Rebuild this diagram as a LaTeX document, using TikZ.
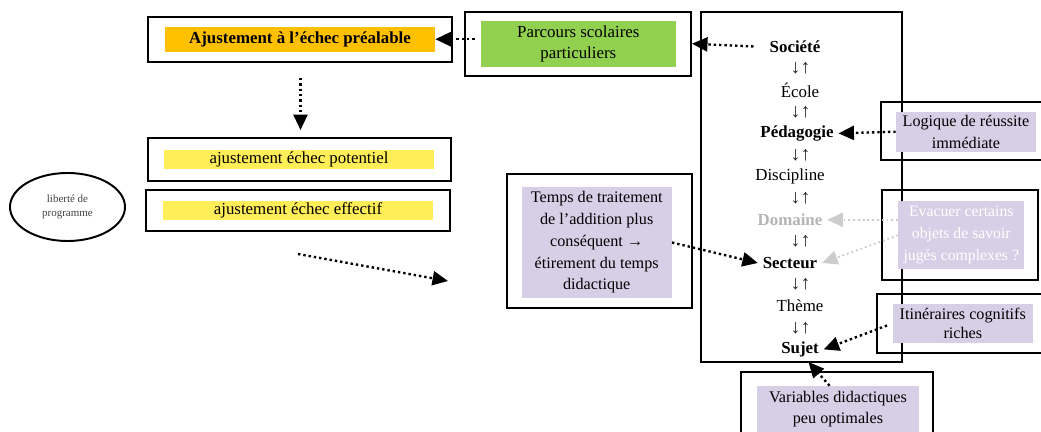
\documentclass[tikz,border=0pt]{standalone}
\usepackage{fontspec}
\setmainfont{Liberation Serif}
\usetikzlibrary{arrows.meta, shapes.geometric}
\usepackage{xcolor}
\definecolor{ajorange}{HTML}{FFC000}
\definecolor{ajgreen}{HTML}{92D050}
\definecolor{ajyellow}{HTML}{FFEE58}
\definecolor{ajlav}{HTML}{D6CFE6}
\definecolor{ajgrey}{HTML}{B4B4B4}
\definecolor{ajdot}{HTML}{CCCCCC}

\begin{document}
\begin{tikzpicture}[x=0.025cm, y=-0.025cm,
  frame/.style={draw, line width=1.4pt, inner sep=0pt},
  fillbox/.style={inner sep=0pt, align=center, font=\fontsize{12}{15}\selectfont},
  lavbox/.style={fill=ajlav, inner sep=0pt, align=center, font=\fontsize{11.5}{15.5}\selectfont},
  colitem/.style={font=\fontsize{12}{14}\selectfont},
  colbold/.style={font=\bfseries\fontsize{12}{14}\selectfont},
  updown/.style={font=\fontsize{14}{14}\selectfont, inner sep=1pt, text=black!85},
  dotarrow/.style={line width=1.7pt, dash pattern=on 1.7pt off 2.1pt, -{Triangle[length=11pt,width=10pt]}},
  greyarrow/.style={ajdot, line width=1.3pt, dash pattern=on 1.3pt off 2.1pt, -{Triangle[length=11pt,width=10pt]}}
]
  \useasboundingbox[fill=white] (0,0) rectangle (1041,432);

  % left column of adjustments
  \node[frame, minimum width=7.585cm, minimum height=1.14cm] (preFrame) at (300,39.5) {};
  \node[fillbox, fill=ajorange, minimum width=6.75cm, minimum height=0.625cm,
        font=\bfseries\fontsize{12}{15}\selectfont] (pre) at (300,39.2) {Ajustement à l’échec préalable};

  \node[frame, minimum width=7.575cm, minimum height=1.06cm] (potFrame) at (299.2,159.5) {};
  \node[fillbox, fill=ajyellow, minimum width=6.75cm, minimum height=0.48cm] (pot) at (299,159.7) {ajustement échec potentiel};

  \node[frame, minimum width=7.61cm, minimum height=1.02cm] (effFrame) at (297.8,210.3) {};
  \node[fillbox, fill=ajyellow, minimum width=6.77cm, minimum height=0.48cm] (eff) at (298,210.3) {ajustement échec effectif};

  \node[ellipse, draw, line width=1.4pt, minimum width=2.875cm, minimum height=1.7cm, inner sep=0pt,
        align=center, text=black!75, font=\fontsize{7.8}{10}\selectfont] (lib) at (67.5,207) {liberté de\\programme};

  \coordinate (dnA) at (300.5,78);
  \coordinate (dnB) at (300.5,130);
  \draw[dotarrow] (dnA) -- (dnB);
  \coordinate (diagA) at (298,254);
  \coordinate (diagB) at (448,281);
  \draw[dotarrow] (diagA) -- (diagB);

  % parcours
  \node[frame, minimum width=5.65cm, minimum height=1.6cm] (parcFrame) at (578,43.7) {};
  \node[fillbox, fill=ajgreen, minimum width=4.88cm, minimum height=1.14cm] (parc) at (578.3,43.8) {Parcours scolaires\\particuliers};
  \draw[dotarrow, shorten <=4pt] (parc.west |- pre.east) -- (pre.east);

  % levels
  \node[frame, minimum width=5.025cm, minimum height=8.75cm] (colFrame) at (801.2,187) {};
  \node[colbold] (soc) at (795,47) {Société};
  \node[updown] (ud1) at (800.5,68.6) {↓↑};
  \node[colitem] (ecole) at (800,90.2) {École};
  \node[updown] (ud2) at (800.5,111.8) {↓↑};
  \node[colbold] (ped) at (797,133.4) {Pédagogie};
  \node[updown] (ud3) at (800.5,155) {↓↑};
  \node[colitem] (disc) at (790,176.6) {Discipline};
  \node[updown] (ud4) at (800.5,198.2) {↓↑};
  \node[colbold, text=ajgrey] (dom) at (790,219.8) {Domaine};
  \node[updown] (ud5) at (800.5,241.4) {↓↑};
  \node[colbold] (sec) at (790,263) {Secteur};
  \node[updown] (ud6) at (800.5,284.6) {↓↑};
  \node[colitem] (theme) at (800,306.2) {Thème};
  \node[updown] (ud7) at (800.5,327.8) {↓↑};
  \node[colbold] (suj) at (800,349.4) {Sujet};
  \draw[dotarrow, shorten <=8pt] (soc.west) -- (parcFrame.east);

  % Temps de traitement
  \node[frame, minimum width=4.625cm, minimum height=3.35cm] (tempsFrame) at (599.5,241) {};
  \node[lavbox, minimum width=3.75cm, minimum height=2.79cm] (temps) at (596.7,242.5)
    {Temps de traitement\\de l’addition plus\\conséquent →\\étirement du temps\\didactique};
  \draw[dotarrow] (temps.east) -- (sec.west);

  % Logique
  \node[frame, minimum width=4.15cm, minimum height=1.46cm] (logFrame) at (963.7,131) {};
  \node[lavbox, minimum width=3.5cm, minimum height=1.0cm] (log) at (966,131.7) {Logique de réussite\\immédiate};
  \draw[dotarrow] (log.west) -- (ped.east);

  % Evacuer
  \node[frame, minimum width=3.91cm, minimum height=2.25cm] (evacFrame) at (959.8,235) {};
  \node[lavbox, text=white, font=\fontsize{11.2}{15.5}\selectfont, minimum width=3.15cm, minimum height=1.71cm] (evac) at (961.3,235.2)
    {Evacuer certains\\objets de savoir\\jugés complexes ?};
  \draw[greyarrow] (evac.west |- dom.east) -- (dom.east);
  \draw[greyarrow] (evac.west) -- (sec.east);

  % Itineraires
  \node[frame, minimum width=4.23cm, minimum height=1.475cm] (itinFrame) at (961.3,323.5) {};
  \node[lavbox, font=\fontsize{11.5}{14}\selectfont, minimum width=3.51cm, minimum height=0.975cm] (itin) at (962.8,323.5)
    {Itinéraires cognitifs\\riches};
  \draw[dotarrow, shorten <=4pt] (itin.west) -- (suj.east);

  % Variables
  \node[frame, minimum width=4.8cm, minimum height=1.825cm] (varFrame) at (837,408.5) {};
  \node[lavbox, font=\fontsize{11.5}{14.5}\selectfont, minimum width=4.05cm, minimum height=1.15cm] (var) at (838,409)
    {Variables didactiques\\peu optimales};
  \draw[dotarrow] ([xshift=-6pt]var.north) -- ([xshift=6pt]suj.south);
\end{tikzpicture}
\end{document}
